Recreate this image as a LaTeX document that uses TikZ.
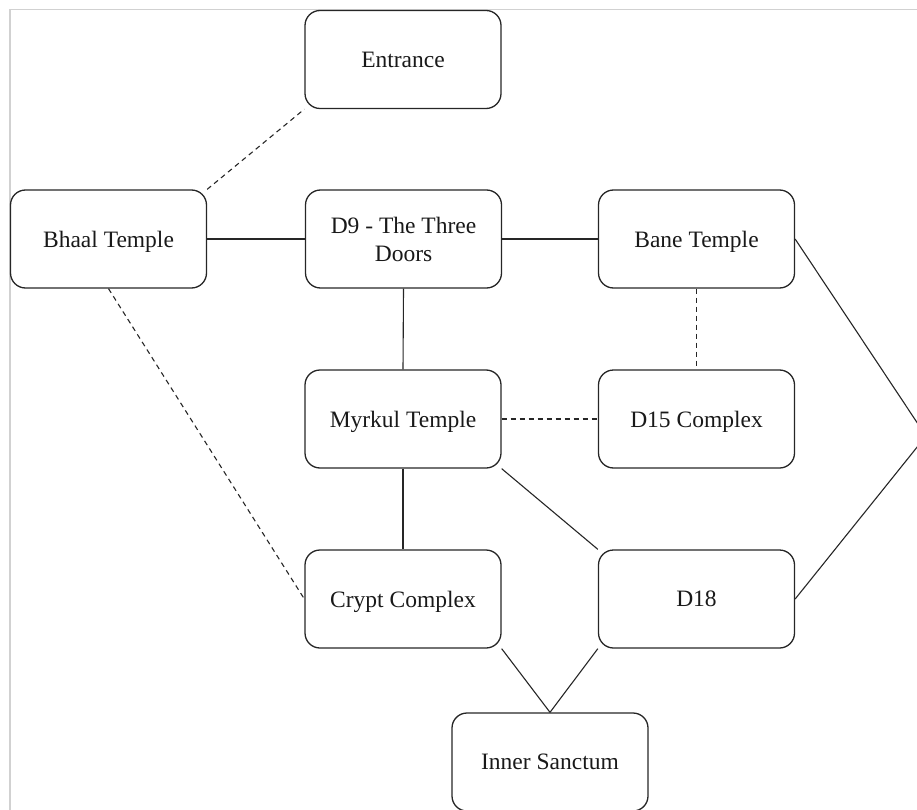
\documentclass[tikz,border=0pt]{standalone}
\usepackage{fontspec}
\setmainfont{Liberation Serif}
\begin{document}
\begin{tikzpicture}[x=1pt,y=-1pt,
  room/.style={draw=black!85, line width=1.3pt, rounded corners=15pt, minimum width=196pt, minimum height=98pt, align=center, font=\fontsize{23.5}{28}\selectfont, inner sep=0pt, text depth=0pt, text=black!90},
  link/.style={draw=black!85, line width=1.1pt},
  dlink/.style={link, dash pattern=on 5pt off 4pt}]
\useasboundingbox (0,0) rectangle (917,810);
\clip (0,0) rectangle (917,810);
\draw[black!18, line width=1.5pt] (10,812) -- (10,9.5) -- (920,9.5);
\node[room] (ent) at (403,59.5) {Entrance};
\node[room] (bhaal) at (108.5,239) {Bhaal Temple};
\node[room] (d9) at (403.5,239) {D9 - The Three\\Doors};
\node[room] (bane) at (696.5,239) {Bane Temple};
\node[room] (myr) at (403,419) {Myrkul Temple};
\node[room] (d15) at (696.5,419) {D15 Complex};
\node[room] (crypt) at (403,599) {Crypt Complex};
\node[room] (d18) at (696.5,599) {D18};
\node[room] (inner) at (550,762) {Inner Sanctum};
\coordinate (tip) at (926,436);
\draw[dlink] (bhaal.north east) -- (ent.south west);
\draw[link] (bhaal.east) -- (d9.west);
\draw[link] (d9.east) -- (bane.west);
\draw[link] (d9.south) -- (myr.north);
\draw[dlink] (bane.south) -- (d15.north);
\draw[dlink] (myr.east) -- (d15.west);
\draw[dlink] (bhaal.south) -- (crypt.west);
\draw[link] (myr.south) -- (crypt.north);
\draw[link] (myr.south east) -- (d18.north west);
\draw[link] (crypt.south east) -- (inner.north);
\draw[link] (d18.south west) -- (inner.north);
\draw[link] (bane.east) -- (tip) -- (d18.east);
\end{tikzpicture}
\end{document}
